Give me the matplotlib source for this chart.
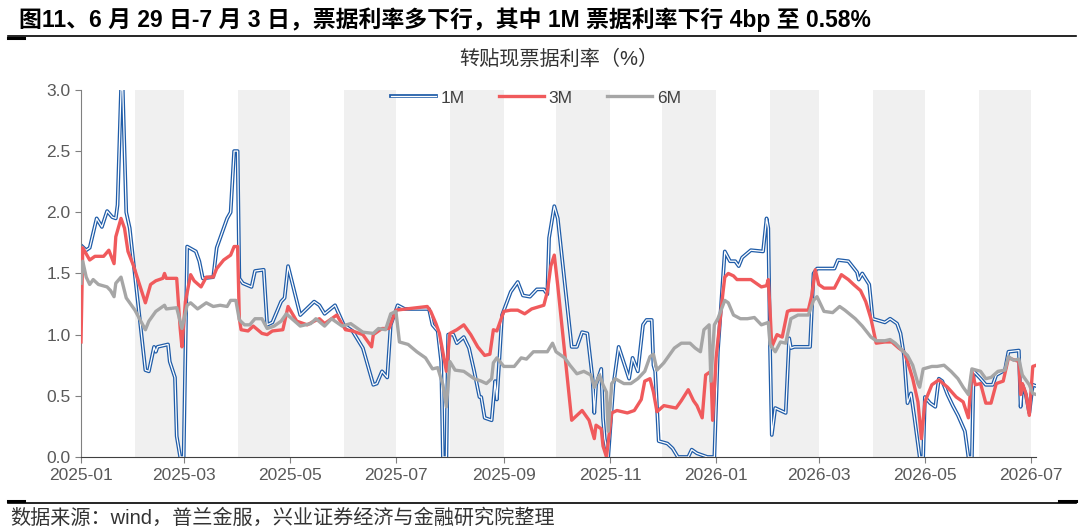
import matplotlib
matplotlib.use("Agg")
from matplotlib import pyplot as plt
from matplotlib.lines import Line2D
from matplotlib.legend_handler import HandlerTuple
import matplotlib.dates as mdates
import pandas as pd

plt.rcParams['font.family'] = ['Liberation Sans', 'Noto Sans CJK SC']

# readings from the picture: (days since 2025-01-01, rate %)
pts_1m = [(0, 1.73), (3, 1.69), (5, 1.71), (9, 1.95), (12, 1.88), (15, 2.01), (18, 1.96), (20, 1.95),
          (21, 2.06), (23, 3.0), (24, 3.0), (26, 2.0), (28, 1.87), (37, 0.71), (39, 0.70), (42, 0.90),
          (43, 0.86), (44, 0.90), (50, 0.92), (51, 0.78), (54, 0.65), (55, 0.17), (57, 0.0), (59, 0.0),
          (61, 1.72), (66, 1.68), (68, 1.60), (70, 1.46), (76, 1.47), (78, 1.71), (84, 1.95), (86, 2.0),
          (88, 2.5), (90, 2.5), (91, 1.46), (93, 1.42), (98, 1.39), (100, 1.52), (105, 1.53), (107, 1.08),
          (110, 1.10), (115, 1.27), (117, 1.30), (119, 1.56), (126, 1.16), (134, 1.27), (137, 1.24),
          (140, 1.17), (146, 1.24), (151, 1.08), (156, 1.03), (162, 0.89), (168, 0.59), (170, 0.60),
          (173, 0.70), (176, 0.65), (178, 1.08), (182, 1.24), (186, 1.21), (200, 1.21), (202, 1.08),
          (205, 1.03), (207, 0.78), (208, 0.0), (210, 0.0), (211, 1.0), (214, 1.0), (216, 0.93), (220, 0.98),
          (223, 0.89), (226, 0.70), (229, 0.49), (230, 0.49), (232, 0.32), (236, 0.30), (238, 0.62),
          (239, 0.47), (242, 1.16), (247, 1.35), (251, 1.43), (254, 1.32), (258, 1.31), (262, 1.37),
          (266, 1.37), (268, 1.33), (269, 1.79), (272, 2.05), (274, 1.95), (282, 0.90), (285, 0.90),
          (288, 1.02), (291, 1.01), (294, 0.64), (295, 0.36), (296, 0.59), (299, 0.72), (300, 0.32),
          (301, 0.15), (303, 0.0), (306, 0.59), (309, 0.90), (312, 0.77), (315, 0.64), (317, 0.81),
          (320, 0.70), (323, 1.08), (325, 1.12), (328, 1.12), (329, 0.75), (330, 0.70), (332, 0.13),
          (337, 0.11), (340, 0.07), (343, 0.0), (349, 0.0), (351, 0.06), (354, 0.03), (360, 0.0), (364, 0.0),
          (366, 0.86), (370, 1.68), (373, 1.60), (376, 1.60), (378, 1.56), (380, 1.63), (385, 1.69),
          (392, 1.68), (394, 1.95), (395, 1.87), (396, 0.89), (397, 0.18), (399, 0.40), (405, 0.36),
          (407, 0.97), (408, 0.89), (410, 0.90), (419, 0.90), (421, 1.50), (423, 1.54), (433, 1.54),
          (435, 1.61), (441, 1.60), (446, 1.51), (447, 1.45), (449, 1.50), (453, 1.41), (455, 1.13),
          (462, 1.10), (465, 1.13), (469, 1.09), (471, 1.01), (473, 0.83), (475, 0.44), (477, 0.52),
          (479, 0.32), (482, 0.0), (484, 0.0), (485, 0.49), (488, 0.44), (491, 0.41), (493, 0.64),
          (495, 0.62), (498, 0.51), (501, 0.42), (504, 0.34), (508, 0.21), (510, 0.0), (512, 0.0),
          (513, 0.70), (517, 0.64), (520, 0.59), (524, 0.59), (526, 0.67), (531, 0.71), (533, 0.86),
          (539, 0.87), (540, 0.41), (541, 0.59), (543, 0.51), (545, 0.36), (547, 0.59), (549, 0.58)]

pts_3m = [(0, 0.94), (1, 1.71), (5, 1.61), (8, 1.64), (13, 1.64), (16, 1.69), (19, 1.58), (20, 1.80),
          (23, 1.95), (25, 1.87), (27, 1.68), (30, 1.57), (37, 1.26), (40, 1.41), (43, 1.44), (47, 1.46),
          (48, 1.50), (49, 1.46), (55, 1.46), (57, 1.05), (58, 0.90), (60, 1.27), (63, 1.49), (65, 1.44),
          (69, 1.39), (72, 1.47), (76, 1.47), (78, 1.54), (82, 1.61), (86, 1.65), (88, 1.72), (90, 1.72),
          (91, 1.13), (92, 1.04), (96, 1.03), (99, 1.07), (104, 1.01), (107, 1.00), (110, 1.03),
          (116, 1.04), (119, 1.23), (124, 1.11), (130, 1.08), (134, 1.11), (137, 1.13), (140, 1.09),
          (147, 1.16), (152, 1.04), (156, 1.03), (162, 1.00), (167, 0.90), (168, 1.0), (173, 1.05),
          (177, 1.05), (181, 1.20), (199, 1.23), (201, 1.19), (204, 1.09), (206, 1.01), (210, 0.70),
          (212, 1.01), (216, 1.04), (220, 1.08), (224, 1.00), (228, 0.90), (232, 0.83), (235, 0.84),
          (237, 1.04), (239, 1.03), (243, 1.19), (247, 1.20), (251, 1.20), (255, 1.17), (259, 1.21),
          (266, 1.24), (268, 1.35), (270, 1.56), (272, 1.65), (274, 1.40), (282, 0.30), (288, 0.38),
          (292, 0.30), (295, 0.15), (296, 0.26), (299, 0.23), (300, 0.09), (302, 0.0), (305, 0.36),
          (308, 0.38), (314, 0.36), (318, 0.38), (322, 0.47), (324, 0.62), (327, 0.64), (329, 0.53),
          (331, 0.37), (335, 0.42), (342, 0.40), (345, 0.46), (349, 0.55), (352, 0.46), (354, 0.42),
          (357, 0.32), (359, 0.67), (362, 0.70), (363, 0.30), (365, 0.81), (369, 1.35), (370, 1.47),
          (372, 1.50), (375, 1.48), (377, 1.45), (385, 1.45), (391, 1.39), (394, 1.40), (395, 1.45),
          (396, 1.20), (397, 0.90), (400, 1.0), (403, 0.98), (406, 1.19), (408, 1.20), (418, 1.20),
          (420, 1.32), (422, 1.53), (424, 1.41), (427, 1.38), (433, 1.38), (437, 1.49), (441, 1.45),
          (444, 1.41), (448, 1.36), (451, 1.27), (454, 1.13), (457, 0.93), (462, 0.94), (466, 0.94),
          (470, 0.89), (473, 0.86), (475, 0.78), (478, 0.64), (481, 0.45), (483, 0.15), (485, 0.45),
          (489, 0.59), (493, 0.63), (498, 0.57), (503, 0.49), (507, 0.45), (510, 0.32), (512, 0.70),
          (514, 0.59), (517, 0.60), (520, 0.44), (523, 0.44), (526, 0.60), (530, 0.62), (533, 0.81),
          (537, 0.79), (539, 0.78), (540, 0.51), (541, 0.60), (543, 0.52), (545, 0.34), (547, 0.74),
          (549, 0.75)]

pts_6m = [(0, 1.42), (1, 1.60), (3, 1.47), (5, 1.41), (7, 1.45), (10, 1.41), (15, 1.39), (17, 1.36),
          (19, 1.31), (20, 1.42), (23, 1.47), (26, 1.30), (31, 1.20), (37, 1.04), (39, 1.11), (43, 1.19),
          (48, 1.24), (49, 1.21), (55, 1.22), (58, 1.05), (61, 1.24), (63, 1.26), (67, 1.21), (72, 1.26),
          (76, 1.23), (80, 1.24), (84, 1.23), (86, 1.28), (89, 1.28), (91, 1.12), (94, 1.08), (97, 1.08),
          (100, 1.13), (104, 1.13), (107, 1.05), (111, 1.07), (115, 1.11), (118, 1.17), (122, 1.12),
          (126, 1.07), (132, 1.09), (135, 1.13), (140, 1.07), (144, 1.13), (150, 1.07), (155, 1.09),
          (162, 1.02), (168, 1.01), (171, 1.05), (175, 1.04), (178, 1.17), (181, 1.19), (183, 0.94),
          (188, 0.92), (193, 0.86), (198, 0.81), (202, 0.72), (205, 0.73), (208, 0.59), (210, 0.41),
          (212, 0.78), (215, 0.71), (220, 0.70), (226, 0.64), (230, 0.62), (233, 0.60), (236, 0.64),
          (237, 0.77), (239, 0.81), (243, 0.74), (249, 0.74), (253, 0.81), (256, 0.80), (260, 0.86),
          (266, 0.86), (268, 0.86), (271, 0.93), (273, 0.86), (278, 0.81), (281, 0.75), (285, 0.68),
          (289, 0.70), (293, 0.67), (295, 0.57), (298, 0.67), (300, 0.59), (302, 0.53), (303, 0.21),
          (305, 0.60), (307, 0.64), (312, 0.60), (316, 0.60), (320, 0.64), (324, 0.70), (327, 0.82),
          (329, 0.84), (331, 0.71), (335, 0.77), (341, 0.89), (345, 0.93), (350, 0.93), (353, 0.89),
          (356, 0.86), (358, 1.04), (361, 1.08), (362, 0.62), (364, 1.08), (366, 1.13), (370, 1.28),
          (372, 1.26), (375, 1.16), (379, 1.13), (383, 1.13), (387, 1.14), (391, 1.08), (395, 1.10),
          (396, 0.92), (399, 0.86), (402, 0.94), (405, 0.93), (408, 1.13), (412, 1.16), (418, 1.16),
          (421, 1.28), (423, 1.31), (427, 1.19), (432, 1.18), (436, 1.23), (439, 1.20), (445, 1.13),
          (449, 1.07), (454, 0.98), (457, 0.95), (462, 0.95), (465, 0.96), (468, 0.93), (472, 0.87),
          (475, 0.83), (478, 0.75), (481, 0.60), (482, 0.57), (484, 0.72), (489, 0.74), (492, 0.74),
          (496, 0.75), (500, 0.70), (504, 0.64), (507, 0.57), (510, 0.51), (512, 0.72), (517, 0.70),
          (520, 0.64), (523, 0.65), (527, 0.70), (531, 0.71), (533, 0.82), (536, 0.79), (539, 0.80),
          (541, 0.67), (545, 0.59), (547, 0.52), (549, 0.51)]

# months that get a grey band
shaded_months = ["2025-02", "2025-04", "2025-06", "2025-08", "2025-10", "2025-12",
                 "2026-02", "2026-04", "2026-06"]

title = "图11、6 月 29 日-7 月 3 日，票据利率多下行，其中 1M 票据利率下行 4bp 至 0.58%"
subtitle = "转贴现票据利率（%）"
source = "数据来源：wind，普兰金服，兴业证券经济与金融研究院整理"

start = pd.Timestamp("2025-01-01")


def to_series(pts):
    days = [p[0] for p in pts]
    vals = [p[1] for p in pts]
    return start + pd.to_timedelta(days, unit="D"), vals


fig = plt.figure(figsize=(10.8, 5.32), dpi=100)
ax = fig.add_axes([0.075, 0.141, 0.8845, 0.690])

x_end = pd.Timestamp("2026-07-04")
for m in shaded_months:
    a = pd.Timestamp(m + "-01")
    b = min(a + pd.offsets.MonthBegin(1), x_end)
    ax.axvspan(a, b, color="#F0F0F0", lw=0, zorder=0)

blue = "#1F5CA8"
red = "#F05A5C"
grey = "#A6A6A6"

x1, y1 = to_series(pts_1m)
x3, y3 = to_series(pts_3m)
x6, y6 = to_series(pts_6m)
l1a, = ax.plot(x1, y1, color=blue, lw=2.7, zorder=2)
l1b, = ax.plot(x1, y1, color="white", lw=0.9, zorder=2.1)
l3, = ax.plot(x3, y3, color=red, lw=2.4, zorder=3)
l6, = ax.plot(x6, y6, color=grey, lw=2.4, zorder=4)

ax.set_xlim(start, x_end)
ax.set_ylim(0, 3.0)
ax.set_yticks([0, 0.5, 1.0, 1.5, 2.0, 2.5, 3.0])
ax.yaxis.set_major_formatter(matplotlib.ticker.FormatStrFormatter("%.1f"))
ax.xaxis.set_major_locator(mdates.MonthLocator(bymonth=[1, 3, 5, 7, 9, 11]))
ax.xaxis.set_major_formatter(mdates.DateFormatter("%Y-%m"))

for s in ["top", "right"]:
    ax.spines[s].set_visible(False)
ax.spines["left"].set_color("#808080")
ax.spines["bottom"].set_color("#404040")
ax.tick_params(axis="both", labelsize=12.5, labelcolor="#595959", color="#808080", length=4)
ax.tick_params(axis="x", pad=4)

ax.legend([(l1a, l1b), l3, l6], ["1M", "3M", "6M"],
          handler_map={tuple: HandlerTuple(ndivide=1, pad=0)},
          loc="center", bbox_to_anchor=(0.476, 0.978), ncol=3, frameon=False,
          fontsize=12.5, labelcolor="#404040", handlelength=2.6, handletextpad=0.25,
          columnspacing=2.0, borderpad=0)

fig.text(0.018, 0.962, title, fontsize=16.5, fontweight="bold", va="center", color="#000000")
fig.text(0.517, 0.888, subtitle, fontsize=14.5, va="center", ha="center", color="#333333")
fig.text(0.009, 0.026, source, fontsize=14.5, va="center", color="#333333")

fig.add_artist(Line2D([0.007, 0.996], [0.932, 0.932], color="black", lw=1.2))
fig.add_artist(Line2D([0.007, 0.022], [0.928, 0.928], color="black", lw=2.2))
fig.add_artist(Line2D([0.007, 0.996], [0.055, 0.055], color="black", lw=1.2))
fig.add_artist(Line2D([0.007, 0.022], [0.058, 0.058], color="black", lw=2.2))
fig.add_artist(Line2D([0.981, 0.996], [0.058, 0.058], color="black", lw=2.2))

fig.savefig("out.png", dpi=100)
